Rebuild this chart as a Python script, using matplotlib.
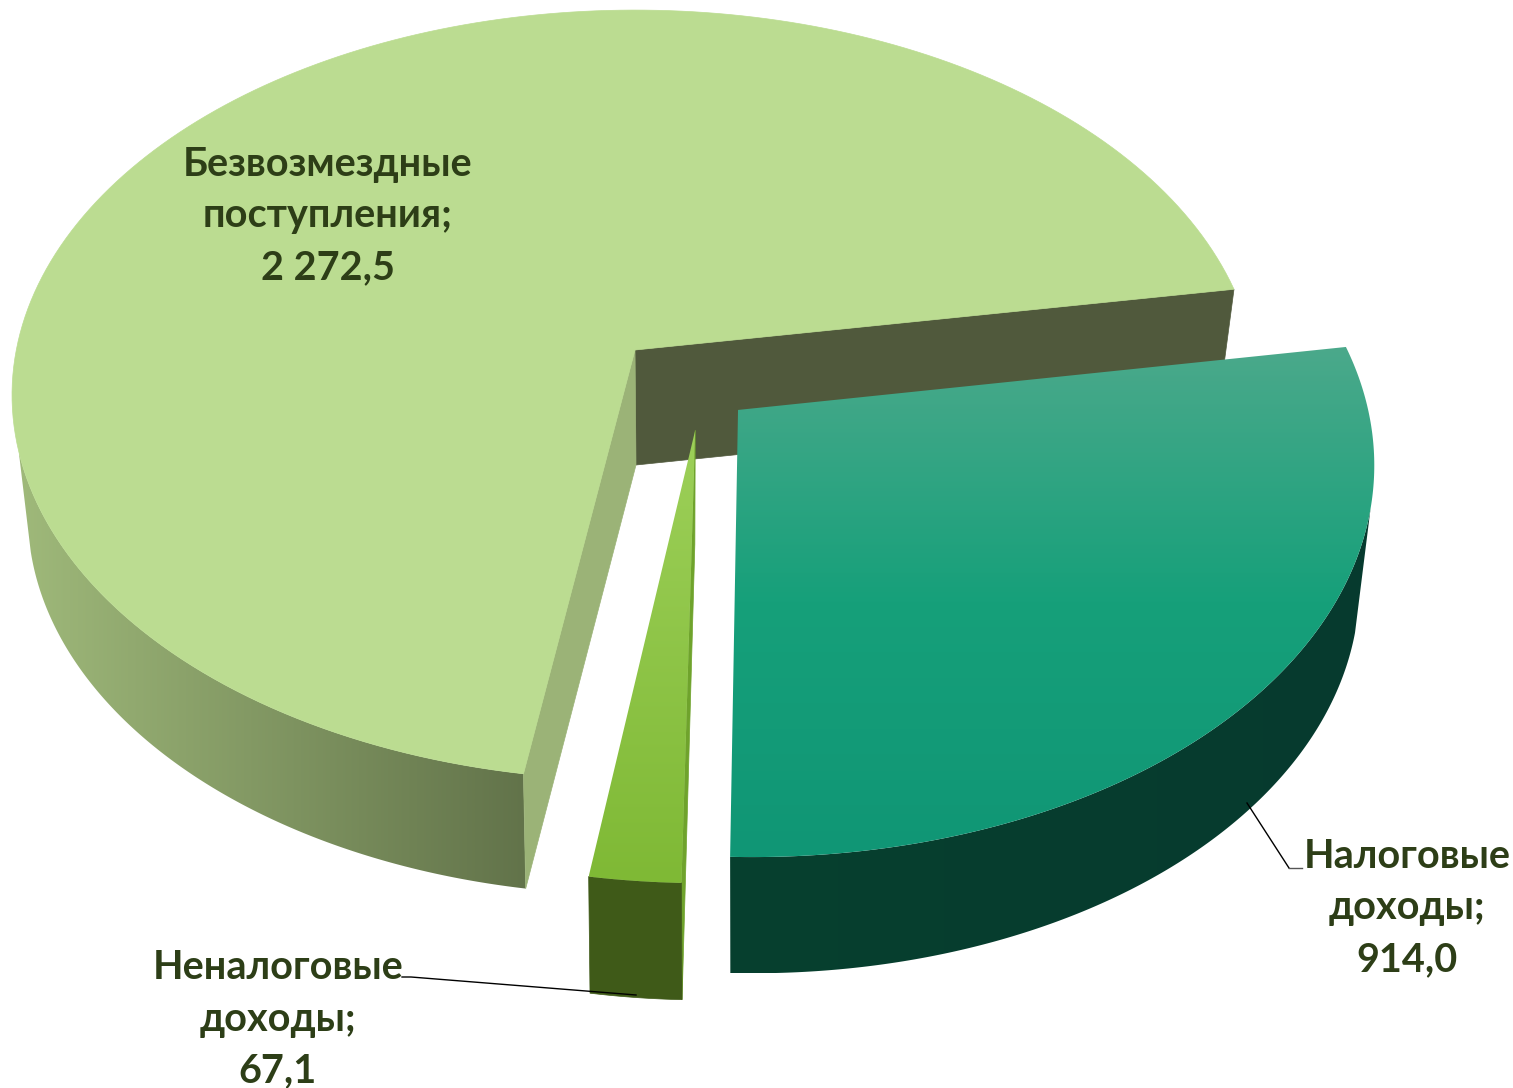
import numpy as np
import matplotlib
matplotlib.use('Agg')
import matplotlib.pyplot as plt
from matplotlib.colors import LinearSegmentedColormap
from matplotlib.patches import Polygon

plt.rcParams['font.family'] = ['Lato', 'Open Sans', 'DejaVu Sans']

names = ['Неналоговые\nдоходы', 'Безвозмездные\nпоступления', 'Налоговые\nдоходы']
values = [67.1, 2272.5, 914.0]

# pie geometry (pixels of the picture), perspective fitted by hand
start_angle = 91.75
offsets = [(0.095, 0.206), (0.0, 0.0), (0.1635, 0.155)]
top_map = dict(cx=635, cy=350, a=618.7, b=379.7, k=0.117)
bot_map = dict(cx=636, cy=465, a=603, b=374, k=0.13)


def project(m, x, y):
    w = 1 - m['k'] * y
    return m['cx'] + m['a'] * x / w, m['cy'] + m['b'] * y / w


def arc(a0, a1, off):
    t = np.deg2rad(np.linspace(a0, a1, 200))
    return np.cos(t) + off[0], np.sin(t) + off[1]


def poly(m, x, y):
    return np.column_stack(project(m, np.asarray(x), np.asarray(y)))


def grad(ax, pts, colors, vertical=True, z=1):
    # fill a polygon with a linear gradient along its bounding box
    cmap = LinearSegmentedColormap.from_list('g', colors)
    x0, y0 = pts.min(axis=0)
    x1, y1 = pts.max(axis=0)
    g = np.linspace(0, 1, 256)
    g = g[:, None] if vertical else g[None, :]
    im = ax.imshow(g, cmap=cmap, extent=(x0, x1, y1, y0), aspect='auto', zorder=z, interpolation='bilinear')
    p = Polygon(pts, closed=True, transform=ax.transData, fc='none', ec='none')
    ax.add_patch(p)
    im.set_clip_path(p)


def solid(ax, pts, color, z=1):
    ax.add_patch(Polygon(pts, closed=True, fc=color, ec=color, lw=0.5, zorder=z))


fig = plt.figure(figsize=(15.13, 10.88), dpi=100)
ax = fig.add_axes([0, 0, 1, 1])

sweeps = np.array(values) / sum(values) * 360
a = np.concatenate([[start_angle], start_angle + np.cumsum(sweeps)])

# big slice
a0, a1 = a[1], a[2]
off = offsets[1]
ox, oy = off
ex0, ey0 = np.cos(np.deg2rad(a0)) + ox, np.sin(np.deg2rad(a0)) + oy
ex1, ey1 = np.cos(np.deg2rad(a1)) + ox, np.sin(np.deg2rad(a1)) + oy
solid(ax, np.vstack([poly(top_map, [ox, ex1], [oy, ey1]), poly(bot_map, [ex1, ox], [ey1, oy])]), '#50593c', 1)
# outer wall, the two arcs stop at slightly different angles to get the silhouette line
x, y = arc(a0, 165, off)
x2, y2 = arc(a0, 167, off)
wall = np.vstack([poly(top_map, x, y), poly(bot_map, x2[::-1], y2[::-1])])
grad(ax, wall, ['#9fb97a', '#62734a'], vertical=False, z=2)
solid(ax, np.vstack([poly(top_map, [ox, ex0], [oy, ey0]), poly(bot_map, [ex0, ox], [ey0, oy])]), '#9bb377', 3)
x, y = arc(a0, a1, off)
solid(ax, np.vstack([poly(top_map, x, y), poly(top_map, [ox], [oy])]), '#bbdc91', 4)

# small slice
a0, a1 = a[0], a[1]
off = offsets[0]
ox, oy = off
ex0, ey0 = np.cos(np.deg2rad(a0)) + ox, np.sin(np.deg2rad(a0)) + oy
solid(ax, np.vstack([poly(top_map, [ox, ex0], [oy, ey0]), poly(bot_map, [ex0, ox], [ey0, oy])]), '#6fa32c', 5)
x, y = arc(a0, a1, off)
solid(ax, np.vstack([poly(top_map, x, y), poly(bot_map, x[::-1], y[::-1])]), '#3f5a18', 6)
grad(ax, np.vstack([poly(top_map, x, y), poly(top_map, [ox], [oy])]), ['#9dd059', '#7fb935'], z=7)

# tax slice
a0, a1 = a[2], a[3]
off = offsets[2]
ox, oy = off
x, y = arc(360 + 14, a1, off)
x2, y2 = arc(360 + 15.6, a1, off)
grad(ax, np.vstack([poly(top_map, x, y), poly(bot_map, x2[::-1], y2[::-1])]),
     ['#07402f', '#063a2e'], vertical=False, z=8)
x, y = arc(a0, a1, off)
grad(ax, np.vstack([poly(top_map, x, y), poly(top_map, [ox], [oy])]),
     ['#4ba98b', '#16a07a', '#109675'], z=9)

# leader lines
ax.plot([1247, 1289], [803, 868], color='black', lw=1, zorder=10)
ax.plot([1289, 1302], [868, 868], color='#555555', lw=1, zorder=10)
ax.plot([402, 411, 636], [977, 977, 995], color='black', lw=1, zorder=10)

# labels
label_xy = [(278, 1019), (328, 216), (1407, 908)]
for name, v, (lx, ly) in zip(names, values, label_xy):
    s = f'{v:,.1f}'.replace(',', ' ').replace('.', ',')
    ax.text(lx, ly, f'{name};\n{s}', ha='center', va='center', fontsize=28.5, fontweight='bold',
            color='#2d3e17', linespacing=1.49, zorder=11)

ax.set_xlim(0, 1513)
ax.set_ylim(1088, 0)
ax.axis('off')
fig.savefig('out.png', dpi=100)
